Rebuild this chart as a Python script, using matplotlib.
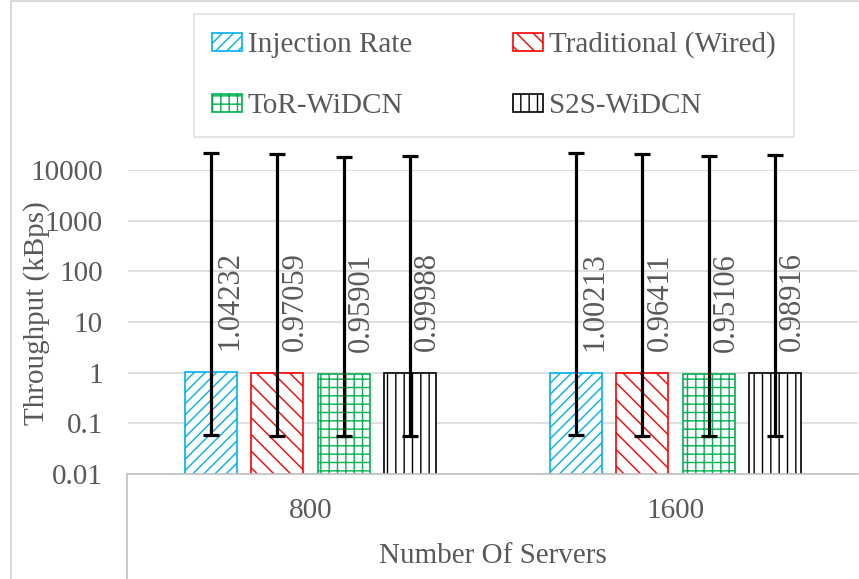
import matplotlib.pyplot as plt
import numpy as np
from matplotlib.lines import Line2D

plt.rcParams['font.family'] = ['Liberation Serif', 'DejaVu Serif']
plt.rcParams['hatch.linewidth'] = 1.0

groups = ['800', '1600']
series = ['Injection Rate', 'Traditional (Wired)', 'ToR-WiDCN', 'S2S-WiDCN']
values = [[1.04232, 1.00213],
          [0.97059, 0.96411],
          [0.95901, 0.95106],
          [0.99988, 0.98916]]
err_low = [[0.058, 0.059],
           [0.055, 0.055],
           [0.055, 0.055],
           [0.055, 0.056]]
err_high = [[21300, 21600],
            [20700, 20700],
            [18000, 19100],
            [18900, 19500]]
y_ticks = [0.01, 0.1, 1, 10, 100, 1000, 10000]
y_labels = ['0.01', '0.1', '1', '10', '100', '1000', '10000']

colors = ['#00B0F0', '#FF0000', '#00B050', '#000000']
hatches = ['///', '\\\\', '++', '||']
txt = '#595959'
grid_c = '#D9D9D9'

fig = plt.figure(figsize=(8.59, 5.79), dpi=100)
ax = fig.add_axes([128/859, 1-474/579, 730/859, 304/579])
ax.set_yscale('log')

x = np.arange(len(groups))
step = 0.181
width = 0.1425
handles = []
for i, name in enumerate(series):
    xs = x + (i - 1.5) * step
    v = np.array(values[i])
    lo = v - np.array(err_low[i])
    hi = np.array(err_high[i]) - v
    b = ax.bar(xs, v, width, color='white', edgecolor=colors[i], hatch=hatches[i],
               linewidth=1.2, label=name, zorder=2)
    handles.append(b)
    ax.errorbar(xs, v, yerr=[lo, hi], fmt='none', ecolor='black', elinewidth=2.3,
                capsize=6, capthick=2.3, zorder=3, clip_on=False)
    for xx, vv in zip(xs, v):
        ax.annotate(f'{vv:g}', xy=(xx, vv), xytext=(18, 22), textcoords='offset pixels',
                    rotation=90, ha='center', va='bottom', fontsize=22, color=txt)

ax.set_ylim(0.01, 10000)
ax.set_xlim(-0.5, 1.5)
ax.set_yticks(y_ticks)
ax.set_yticklabels(y_labels)
ax.minorticks_off()
ax.set_xticks(x)
ax.set_xticklabels(groups)
ax.tick_params(axis='y', length=0, pad=18, labelsize=21, labelcolor=txt)
ax.tick_params(axis='x', length=0, pad=17, labelsize=21, labelcolor=txt)
ax.yaxis.grid(True, color=grid_c, linewidth=1.2, zorder=0)
ax.set_axisbelow(True)
for s in ['left', 'top', 'right']:
    ax.spines[s].set_visible(False)
ax.spines['bottom'].set_color('#BFBFBF')
ax.spines['bottom'].set_linewidth(1.2)

ax.set_ylabel('Throughput (kBps)', fontsize=21, color=txt)
ax.yaxis.set_label_coords(-0.107, 0.53)
ax.set_xlabel('Number Of Servers', fontsize=21, color=txt, labelpad=14)

# category table line and outer chart frame
fig.add_artist(Line2D([127/859, 127/859], [0, 1-474/579], color='#BFBFBF', lw=1.2))
fig.add_artist(Line2D([11/859, 11/859], [0, 1-1/579], color='#D9D9D9', lw=1.5))
fig.add_artist(Line2D([11/859, 1], [1-1/579, 1-1/579], color='#D9D9D9', lw=1.5))

# legend fills row by row in the reference
order = [0, 2, 1, 3]
leg = fig.legend([handles[k] for k in order], [series[k] for k in order],
                 loc='upper left', bbox_to_anchor=(194/859, 1-14/579), ncol=2,
                 fontsize=21, frameon=True, fancybox=False, edgecolor=grid_c,
                 handlelength=1.05, handleheight=0.6, handletextpad=0.2,
                 columnspacing=3.45, labelspacing=1.2, borderpad=0.6,
                 borderaxespad=0)
leg.get_frame().set_linewidth(1.2)
for t in leg.get_texts():
    t.set_color(txt)

fig.savefig('out.png', dpi=100)
